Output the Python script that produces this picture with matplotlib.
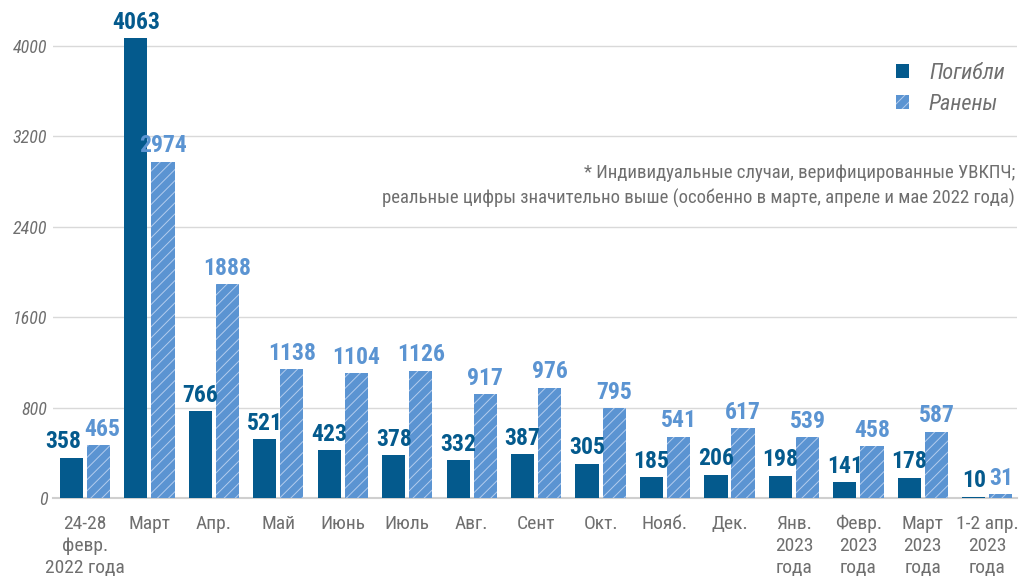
import numpy as np
import matplotlib.pyplot as plt

plt.rcParams['font.family'] = ['Roboto Condensed', 'Roboto', 'DejaVu Sans']
plt.rcParams['hatch.color'] = '#b4cdee'
plt.rcParams['hatch.linewidth'] = 0.7

periods = ['24-28\nфевр.\n2022 года', 'Март', 'Апр.', 'Май', 'Июнь', 'Июль', 'Авг.',
           'Сент', 'Окт.', 'Нояб.', 'Дек.', 'Янв.\n2023\nгода', 'Февр.\n2023\nгода',
           'Март\n2023\nгода', '1-2 апр.\n2023\nгода']
killed = [358, 4063, 766, 521, 423, 378, 332, 387, 305, 185, 206, 198, 141, 178, 10]
injured = [465, 2974, 1888, 1138, 1104, 1126, 917, 976, 795, 541, 617, 539, 458, 587, 31]
yticks = [0, 800, 1600, 2400, 3200, 4000]

dark = '#045a8d'
light = '#5b94d2'
grey = '#6f6f6f'

fig = plt.figure(figsize=(10.19, 5.77), dpi=100)
ax = fig.add_axes([0.052, 1 - 498 / 577, 0.946, 492 / 577])

x = np.arange(len(periods))
w = 0.36
off = 0.21
ax.bar(x - off, killed, w, color=dark, label='Погибли', zorder=3)
ax.bar(x + off, injured, w, color=light, hatch='///', edgecolor='#b4cdee', linewidth=0,
       label='Ранены', zorder=3)

# first pair of labels is pushed apart a little so they don't collide
nudge = {0: 0.12}
for i in range(len(periods)):
    d = nudge.get(i, 0)
    ax.text(x[i] - off - d, killed[i] + 40, str(killed[i]), ha='center', va='bottom',
            fontsize=17, fontweight='bold', color=dark)
    ax.text(x[i] + off + d / 2, injured[i] + 40, str(injured[i]), ha='center', va='bottom',
            fontsize=17, fontweight='bold', color=light)

ax.set_xlim(-0.496, 14.46)
ax.set_ylim(0, 4350)
ax.set_yticks(yticks)
ax.set_yticklabels([str(t) for t in yticks], fontstyle='italic', color=grey, fontsize=13)
ax.set_xticks(x)
ax.set_xticklabels(periods, color=grey, fontsize=14, linespacing=1.3)
ax.tick_params(axis='both', length=0)
ax.tick_params(axis='x', pad=12)
ax.tick_params(axis='y', pad=4)
ax.grid(axis='y', color='#d9d9d9', linewidth=1, zorder=0)
for s in ['top', 'right', 'left']:
    ax.spines[s].set_visible(False)
ax.spines['bottom'].set_color('#cfcfcf')
ax.spines['bottom'].set_linewidth(1.5)

leg = ax.legend(loc='upper right', bbox_to_anchor=(1.008, 0.925), frameon=False,
                handlelength=0.6, handleheight=0.6, labelspacing=0.45, handletextpad=0.9,
                prop={'style': 'italic', 'size': 16})
for t in leg.get_texts():
    t.set_color(grey)

ax.text(0.998, 0.678, '* Индивидуальные случаи, верифицированные УВКПЧ;\n'
        'реальные цифры значительно выше (особенно в марте, апреле и мае 2022 года)',
        transform=ax.transAxes, ha='right', va='top', color=grey, fontsize=13.5,
        linespacing=1.4)

fig.savefig('out.png', dpi=100)
